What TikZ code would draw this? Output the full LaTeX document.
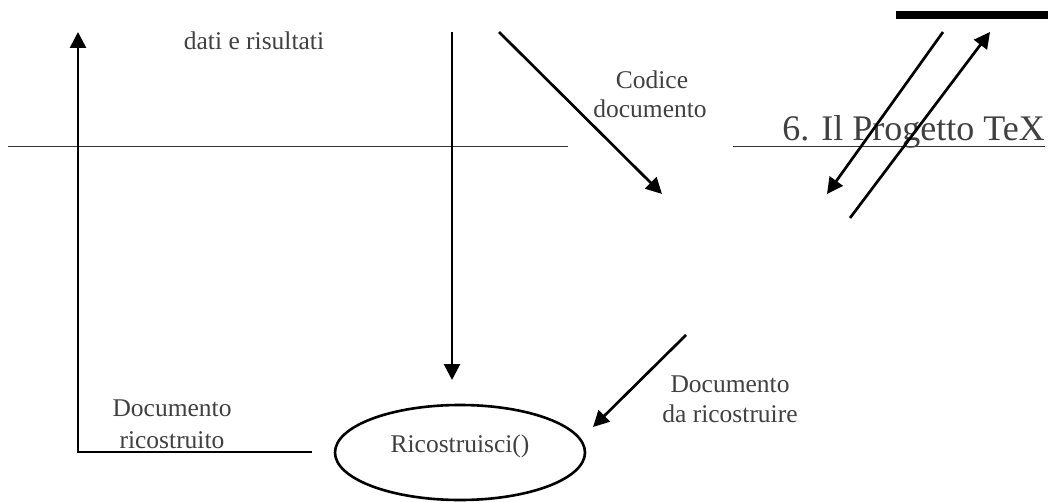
\documentclass[tikz,border=0pt]{standalone}
\usepackage{fontspec}
\setmainfont{Liberation Serif}
\usetikzlibrary{arrows.meta,shapes.geometric}
\definecolor{txtgray}{HTML}{404040}
\definecolor{rulegray}{HTML}{333333}
\begin{document}
\begin{tikzpicture}[x=1pt,y=-1pt,
  flow/.style={draw=black,line width=2.7pt,-{Triangle[length=16pt,width=16pt]}},
  rule/.style={draw=rulegray,line width=1.9pt},
  lbl/.style={text=txtgray,inner sep=0pt,anchor=base,font=\fontsize{25.5}{30}\selectfont},
  title/.style={text=txtgray,inner sep=0pt,anchor=base,font=\fontsize{36}{42}\selectfont},
  proc/.style={ellipse,draw=black,line width=2.6pt,minimum width=250pt,minimum height=95pt,inner sep=0pt}]
  \useasboundingbox (0,0) rectangle (1048,502);

  % header rules and bar
  \coordinate (ruleLa) at (8,146.5);
  \coordinate (ruleLb) at (568,146.5);
  \coordinate (ruleRa) at (733,146.5);
  \coordinate (ruleRb) at (1045,146.5);
  \draw[rule] (ruleLa) -- (ruleLb);
  \draw[rule] (ruleRa) -- (ruleRb);
  \coordinate (barA) at (896,15);
  \coordinate (barB) at (1048,15);
  \draw[line width=8pt] (barA) -- (barB);
  \node[title] (head) at (913.5,141) {6. Il Progetto TeX};

  % process
  \node[proc] (ric) at (460,452.5) {};
  \node[lbl] (ricTxt) at (460,452) {Ricostruisci()};

  % data in from the top
  \coordinate (datiTop) at (452,32);
  \coordinate (datiEnd) at (452,380);
  \draw[flow] (datiTop) -- (datiEnd);
  \node[lbl] (dati) at (254,50) {dati e risultati};

  % rebuilt document going back up
  \coordinate (outStart) at (312,452);
  \coordinate (outCorner) at (78,452);
  \coordinate (outTop) at (78,32);
  \draw[flow] (outStart) -- (outCorner) -- (outTop);
  \node[lbl] (outA) at (172,416) {Documento};
  \node[lbl] (outB) at (172,448) {ricostruito};

  % document code
  \coordinate (codStart) at (499,32);
  \coordinate (codEnd) at (662,194);
  \draw[flow] (codStart) -- (codEnd);
  \node[lbl] (codA) at (652,89) {Codice};
  \node[lbl] (codB) at (650,118) {documento};

  % document to rebuild
  \coordinate (docStart) at (686,335);
  \coordinate (docEnd) at (593,427);
  \draw[flow] (docStart) -- (docEnd);
  \node[lbl] (docA) at (730,392) {Documento};
  \node[lbl] (docB) at (730,422) {da ricostruire};

  % exchange with the bar
  \coordinate (downStart) at (943,32);
  \coordinate (downEnd) at (827,194);
  \draw[flow] (downStart) -- (downEnd);
  \coordinate (upStart) at (850,218);
  \coordinate (upEnd) at (990,32);
  \draw[flow] (upStart) -- (upEnd);
\end{tikzpicture}
\end{document}
